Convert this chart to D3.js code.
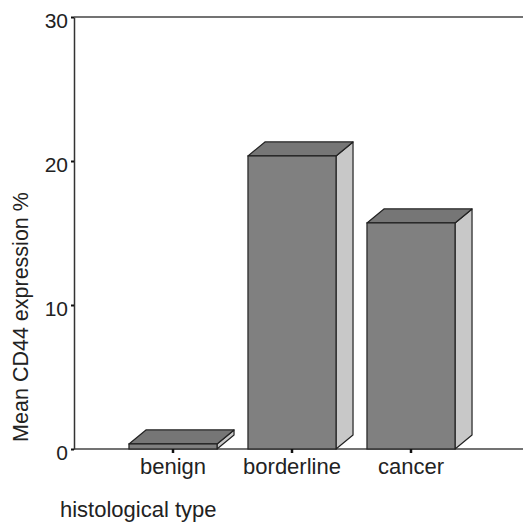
<!DOCTYPE html>
<html>
<head>
<meta charset="utf-8">
<script src="https://cdn.jsdelivr.net/npm/d3@7"></script>
<style>
  body { margin: 0; background: #fff; }
  svg { display: block; font-family: "Liberation Sans", Arial, sans-serif; }
</style>
</head>
<body>
<svg id="chart" width="523" height="524"></svg>
<script>
var categories = ['benign', 'borderline', 'cancer'];
var values = [0.35, 20.35, 15.7];
var yTicks = [0, 10, 20, 30];

var width = 523, height = 524;
var plotLeft = 74, plotTop = 17, plotBottom = 449;
var depthX = 17, depthY = 14;

var svg = d3.select('#chart');

var x = d3.scaleBand()
    .domain(categories)
    .range([113.5, 470.5])
    .paddingInner(0.26)
    .paddingOuter(0.13);

var y = d3.scaleLinear()
    .domain([0, 30])
    .range([plotBottom, plotTop]);

// Frame lines: top line and baseline.
svg.append('line')
    .attr('x1', plotLeft).attr('x2', width)
    .attr('y1', y(30)).attr('y2', y(30))
    .style('stroke', '#444').style('stroke-width', 1.5);
svg.append('line')
    .attr('x1', plotLeft).attr('x2', width)
    .attr('y1', y(0)).attr('y2', y(0))
    .style('stroke', '#444').style('stroke-width', 1.5);

var yAxis = svg.append('g')
    .attr('transform', 'translate(' + plotLeft + ',0)')
    .call(d3.axisLeft(y).tickValues(yTicks).tickSize(3).tickPadding(3).tickSizeOuter(0));
yAxis.select('.domain').style('stroke', '#333').style('stroke-width', 1.5);
yAxis.selectAll('.tick line').style('stroke', '#111').style('stroke-width', 2);
yAxis.selectAll('.tick text')
    .attr('y', 4)
    .style('font-family', '"Liberation Sans", Arial, sans-serif')
    .style('font-size', '21px')
    .style('fill', '#222');

// Create bars with a 3D look.
var bars = svg.selectAll('.bar')
    .data(categories.map(function(c, i) { return {name: c, value: values[i]}; }))
  .enter().append('g')
    .attr('class', 'bar');

var stroke = '#222';

bars.append('path')
    .attr('d', function(d) {
      var x0 = x(d.name), x1 = x0 + x.bandwidth(), yt = y(d.value), yb = y(0);
      return 'M' + x1 + ',' + yb + 'L' + (x1 + depthX) + ',' + (yb - depthY) +
        'L' + (x1 + depthX) + ',' + (yt - depthY) + 'L' + x1 + ',' + yt + 'Z';
    })
    .style('fill', '#c8c8c8').style('stroke', stroke).style('stroke-width', 1.2)
    .style('stroke-linejoin', 'round');

bars.append('path')
    .attr('d', function(d) {
      var x0 = x(d.name), x1 = x0 + x.bandwidth(), yt = y(d.value);
      return 'M' + x0 + ',' + yt + 'L' + (x0 + depthX) + ',' + (yt - depthY) +
        'L' + (x1 + depthX) + ',' + (yt - depthY) + 'L' + x1 + ',' + yt + 'Z';
    })
    .style('fill', '#767676').style('stroke', stroke).style('stroke-width', 1.2)
    .style('stroke-linejoin', 'round');

bars.append('rect')
    .attr('x', function(d) { return x(d.name); })
    .attr('y', function(d) { return y(d.value); })
    .attr('width', x.bandwidth())
    .attr('height', function(d) { return y(0) - y(d.value); })
    .style('fill', '#808080').style('stroke', stroke).style('stroke-width', 1.2);

// X axis ticks and labels.
var xAxis = svg.append('g')
    .attr('transform', 'translate(0,' + y(0) + ')')
    .call(d3.axisBottom(x).tickSize(4).tickPadding(5).tickSizeOuter(0));
xAxis.select('.domain').remove();
xAxis.selectAll('.tick line').style('stroke', '#111').style('stroke-width', 2.5);
xAxis.selectAll('.tick text')
    .style('font-family', '"Liberation Sans", Arial, sans-serif')
    .style('font-size', '22px')
    .style('fill', '#222');

// Axis titles.
svg.append('text')
    .attr('x', 60).attr('y', 517)
    .text('histological type')
    .style('font-size', '22px')
    .style('fill', '#222');

svg.append('text')
    .attr('transform', 'translate(28,317) rotate(-90)')
    .attr('text-anchor', 'middle')
    .text('Mean CD44 expression %')
    .style('font-size', '21.5px')
    .style('fill', '#222');
</script>
</body>
</html>
